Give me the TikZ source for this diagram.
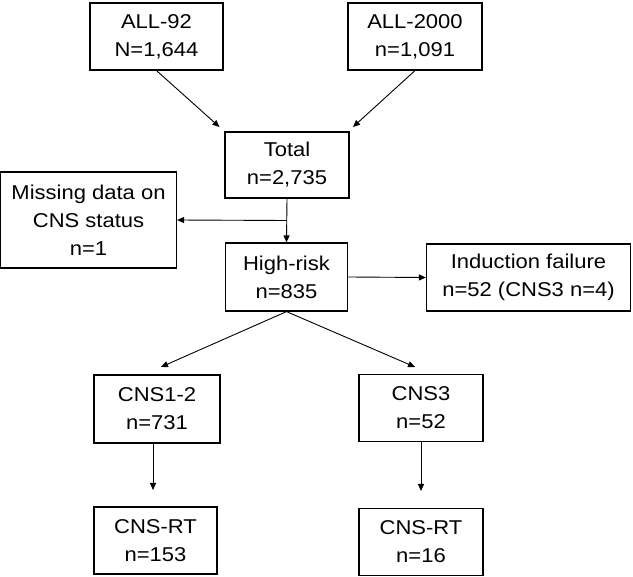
\documentclass[tikz,border=0pt]{standalone}
\usepackage{fontspec}
\setmainfont{Liberation Sans}[FakeStretch=1.1]
\usetikzlibrary{arrows.meta,calc}

\begin{document}
\begin{tikzpicture}[x=1pt,y=-1pt,
  box/.style={draw,line width=1.2pt,inner sep=0pt,align=center,
    font=\fontsize{20}{28}\selectfont},
  arr/.style={-{Triangle[length=7pt,width=6pt]},line width=0.9pt}]
\useasboundingbox (0,0) rectangle (633,577);
\node [box,minimum width=133pt,minimum height=67pt] (all92) at (156.5,36.5) {ALL-92\\N=1,644};
\node [box,minimum width=134pt,minimum height=67pt] (all2000) at (415,36.5) {ALL-2000\\n=1,091};
\node [box,minimum width=124pt,minimum height=66pt] (total) at (287,165) {Total\\n=2,735};
\node [box,minimum width=176pt,minimum height=96pt] (miss) at (88.5,220) {Missing data on\\CNS status\\n=1};
\node [box,minimum width=122pt,minimum height=68pt] (high) at (286.5,277) {High-risk\\n=835};
\node [box,minimum width=204pt,minimum height=67pt] (induct) at (528.5,277.5) {Induction failure\\n=52 (CNS3 n=4)};
\node [box,minimum width=126pt,minimum height=68pt] (cns12) at (157,409) {CNS1-2\\n=731};
\node [box,minimum width=124pt,minimum height=67pt] (cns3) at (421,408) {CNS3\\n=52};
\node [box,minimum width=123pt,minimum height=67pt] (rt1) at (155.5,540.5) {CNS-RT\\n=153};
\node [box,minimum width=124pt,minimum height=67pt] (rt2) at (421,542) {CNS-RT\\n=16};
% arrow ends
\coordinate (e92) at (219.5,127);
\coordinate (e2000) at (353,127);
\coordinate (ecns12) at (161,367);
\coordinate (ecns3) at (415,367);
\coordinate (ert1) at (153,490);
\coordinate (ert2) at (421,491);
\coordinate (split) at ($(total.south)!0.5!(high.north)$);

\draw [arr] (all92.south) -- (e92);
\draw [arr] (all2000.south) -- (e2000);
\draw [arr] (total.south) -- (high.north);
\draw [arr] (split) -- (miss.east);
\draw [arr] (high.east) -- (induct.west);
\draw [arr] (high.south) -- (ecns12);
\draw [arr] (high.south) -- (ecns3);
\draw [arr] (cns12.south -| ert1) -- (ert1);
\draw [arr] (cns3.south) -- (ert2);
\end{tikzpicture}
\end{document}
